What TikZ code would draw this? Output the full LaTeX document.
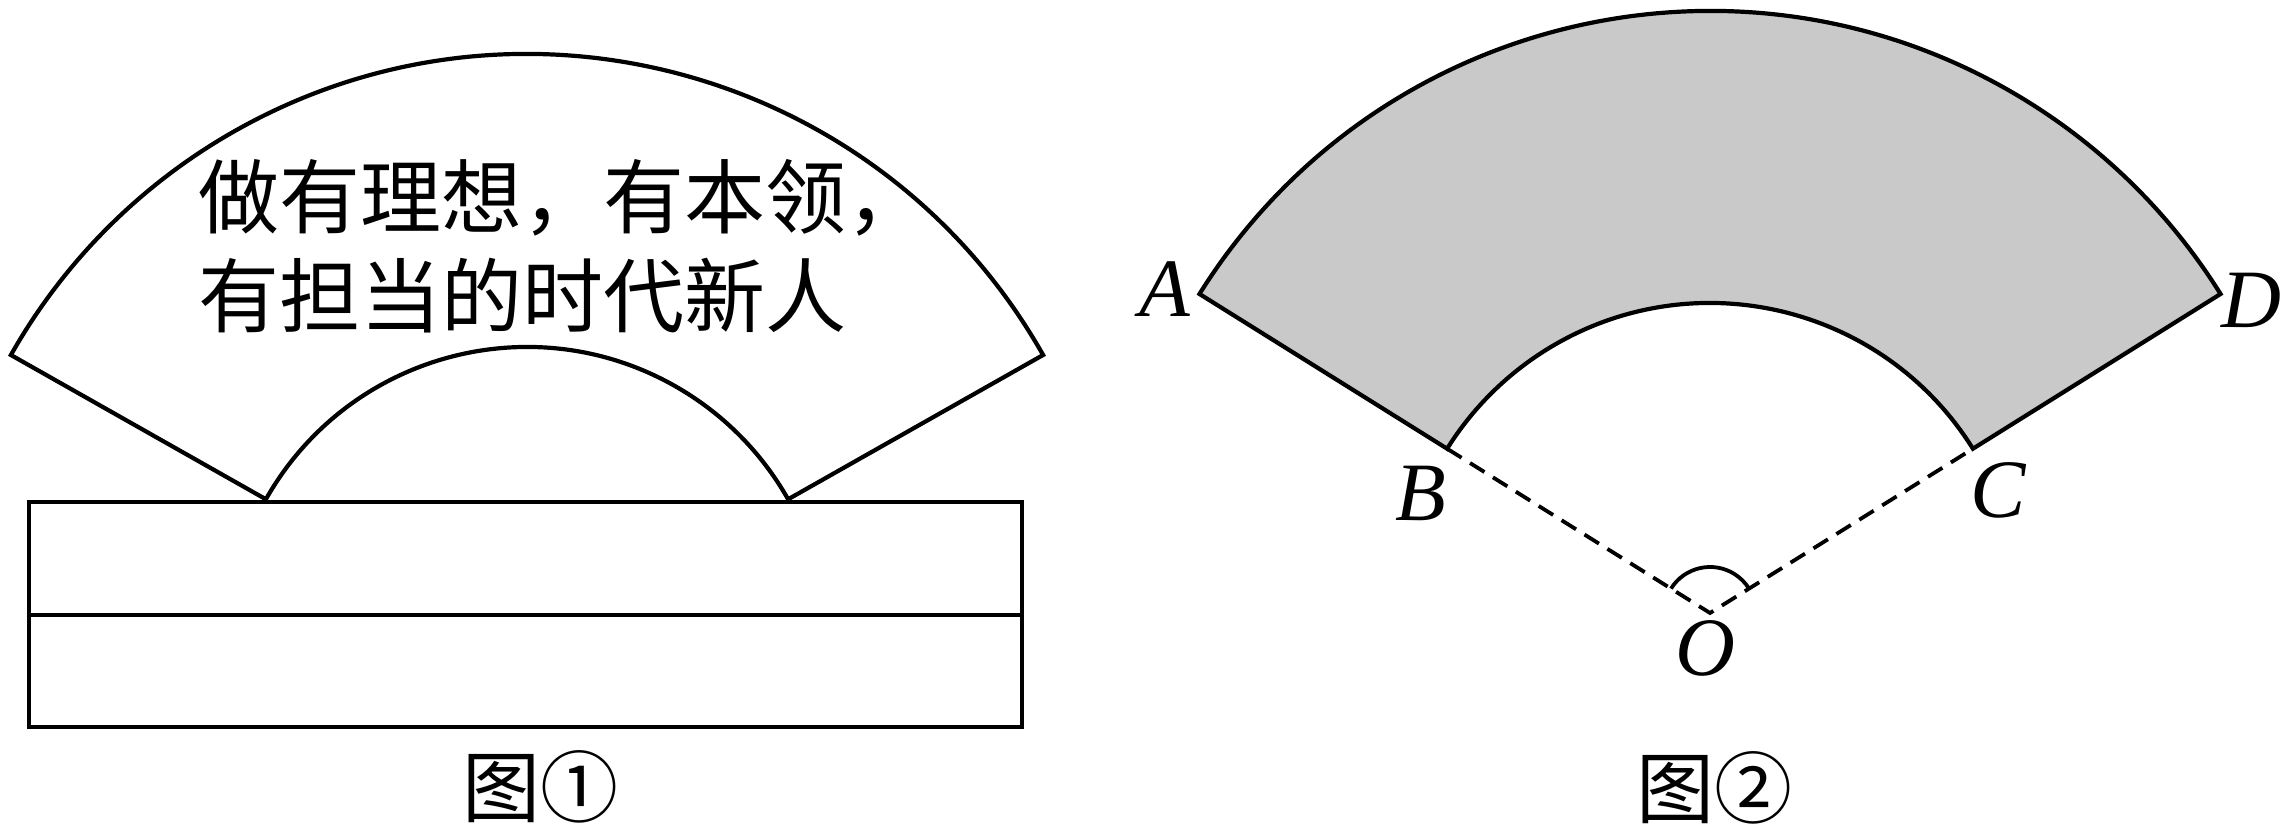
\documentclass[tikz,border=0pt]{standalone}
\usepackage{fontspec}
\setmainfont{Liberation Serif}
\newfontfamily\cjk{Noto Sans CJK SC}
\definecolor{fangray}{RGB}{201,201,201}
\begin{document}
\begin{tikzpicture}[x=0.5pt,y=0.5pt,
  fanline/.style={line width=2.1pt, line join=miter},
  dashline/.style={line width=1.9pt, dash pattern=on 8.5pt off 5pt},
  fanfill/.style={fill=fangray, fanline},
  lbl/.style={inner sep=0pt, font=\fontsize{41.5pt}{48pt}\selectfont\itshape},
  cjktext/.style={inner sep=0pt, anchor=west, font=\cjk\fontsize{40.5pt}{48pt}\selectfont},
  capstyle/.style={inner sep=0pt, font=\cjk\fontsize{39pt}{46pt}\selectfont}]
\useasboundingbox (0,0) rectangle (2289,834);
% ---------- Figure 1 ----------
\coordinate (c1) at (527,187);
\path (c1) ++(150.5:593) coordinate (L1)
      (c1) ++(150.5:300) coordinate (L2)
      (c1) ++(29.5:300) coordinate (R2)
      (c1) ++(29.5:593) coordinate (R1);
\draw[fanline] (L1) -- (L2) arc[start angle=150.5, end angle=29.5, radius=300]
  -- (R1) arc[start angle=29.5, end angle=150.5, radius=593] -- cycle;
\coordinate (r1) at (29,107);
\coordinate (r2) at (1022,332);
\coordinate (m1) at (29,219);
\coordinate (m2) at (1022,219);
\draw[fanline] (r1) rectangle (r2);
\draw[fanline] (m1) -- (m2);
\node[cjktext] (t1) at (198,636) {做有理想，有本领，};
\node[cjktext] (t2) at (198,538) {有担当的时代新人};
\node[capstyle] (cap1) at (540,47) {图①};
% ---------- Figure 2 ----------
\coordinate (O) at (1710,221);
\path (O) ++(148:602) coordinate (A)
      (O) ++(148:310) coordinate (B)
      (O) ++(32:310) coordinate (C)
      (O) ++(32:602) coordinate (D);
\filldraw[fanfill] (A) arc[start angle=148, end angle=32, radius=602]
  -- (C) arc[start angle=32, end angle=148, radius=310] -- cycle;
\draw[dashline] (B) -- (O) -- (C);
\draw[line width=1.9pt] (O) ++(148:46) arc[start angle=148, end angle=32, radius=46];
\node[lbl] (lA) at (1165,545) {A};
\node[lbl] (lB) at (1421,341) {B};
\node[lbl] (lC) at (1998,344) {C};
\node[lbl] (lD) at (2251,534) {D};
\node[lbl] (lO) at (1705,186) {O};
\node[capstyle] (cap2) at (1714,46) {图②};
\end{tikzpicture}
\end{document}
